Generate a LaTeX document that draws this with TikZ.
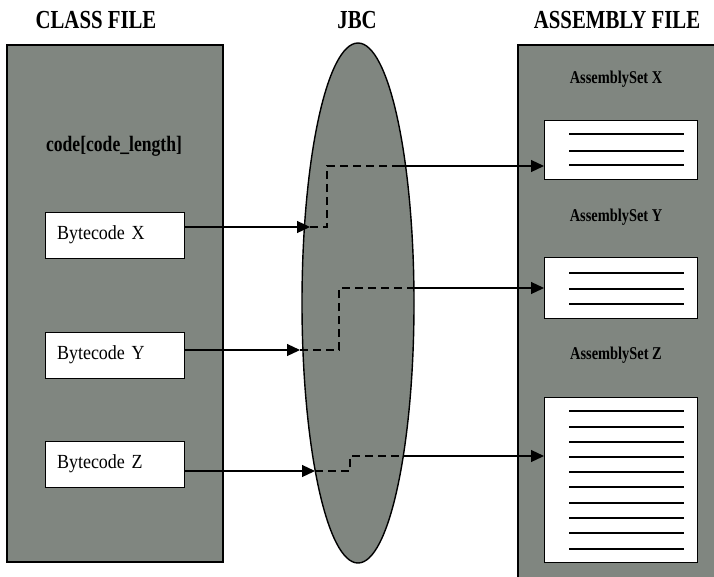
\documentclass[tikz,border=0pt]{standalone}
\usepackage{fontspec}
\setmainfont{Liberation Serif}
\newfontfamily\condfont[FakeStretch=0.8]{Liberation Serif}
\newfontfamily\boxfont[FakeStretch=0.9]{Liberation Serif}
\usetikzlibrary{shapes.geometric,positioning,arrows.meta}
\definecolor{panelgray}{RGB}{128,134,128}

\begin{document}
\begin{tikzpicture}[x=1pt, y=-1pt,
    panel/.style={draw, line width=1.4pt, fill=panelgray, outer sep=0pt},
    title/.style={font=\condfont\fontsize{26}{28}\selectfont\bfseries},
    setlabel/.style={font=\condfont\fontsize{18}{20}\selectfont\bfseries},
    bcbox/.style={draw, thick, fill=white, outer sep=0pt, minimum width=139pt,
                  minimum height=46pt, text width=115pt, inner xsep=12pt, align=left,
                  font=\boxfont\fontsize{20}{22}\selectfont},
    asmbox/.style={draw, thick, fill=white, outer sep=0pt, minimum width=153pt},
    textline/.style={line width=1.3pt},
    arrow/.style={-{Triangle[length=13pt, width=12pt]}, line width=1.2pt},
    route/.style={line width=1.2pt, dash pattern=on 8pt off 5pt}
]
\useasboundingbox (0,0) rectangle (714,576);

% Panels
\node[panel, minimum width=216pt, minimum height=517pt, anchor=north west] (classfile) at (7,45) {};
\node[panel, minimum width=200pt, minimum height=540pt, anchor=north west] (asmfile) at (518,45) {};
\node[panel, ellipse, minimum width=112pt, minimum height=520pt] (jbc) at (358,303) {};

% Titles
\node[title] (classtitle) at (96,20) {CLASS FILE};
\node[title] (jbctitle) at (357,20) {JBC};
\node[title] (asmtitle) at (617,20) {ASSEMBLY FILE};

% Class file contents
\node[font=\condfont\fontsize{22}{24}\selectfont\bfseries] (codelen) at (114,146) {code[code\_length]};
\node[bcbox] (bcX) at (114.5,235) {Bytecode X};
\node[bcbox] (bcY) at (114.5,355) {Bytecode Y};
\node[bcbox] (bcZ) at (114.5,464) {Bytecode Z};

% Assembly file contents
\node[setlabel] (setX) at (616,79) {AssemblySet X};
\node[setlabel] (setY) at (616,217) {AssemblySet Y};
\node[setlabel] (setZ) at (616,355) {AssemblySet Z};
\node[asmbox, minimum height=59pt] (asmX) at (620.5,149.5) {};
\node[asmbox, minimum height=61pt] (asmY) at (620.5,287.5) {};
\node[asmbox, minimum height=165pt] (asmZ) at (620.5,479.5) {};
\foreach \y in {134,151,165}
    \draw[textline] (569,\y) -- (684,\y);
\foreach \y in {273,289,304}
    \draw[textline] (569,\y) -- (684,\y);
\foreach \y in {411,427,442,457,472,487,503,518,533,549}
    \draw[textline] (569,\y) -- (684,\y);

% Entry and exit points on the JBC
\coordinate (inX) at (310,227);
\coordinate (inY) at (300,350);
\coordinate (inZ) at (315,471);
\coordinate (outX) at (400,166);
\coordinate (outY) at (410,288);
\coordinate (outZ) at (405,456);

% Bytecode into JBC
\draw[arrow] ([yshift=8pt]bcX.east) -- (inX);
\draw[arrow] ([yshift=5pt]bcY.east) -- (inY);
\draw[arrow] ([yshift=-7pt]bcZ.east) -- (inZ);

% Translation inside JBC
\draw[route] (inX) -- ++(17,0) |- (outX);
\draw[route] (inY) -- ++(39,0) |- (outY);
\draw[route] (inZ) -- ++(35,0) |- (outZ);

% JBC out to assembly sets
\draw[arrow] (outX) -- (asmX.west |- outX);
\draw[arrow] (outY) -- (asmY.west |- outY);
\draw[arrow] (outZ) -- (asmZ.west |- outZ);

\end{tikzpicture}
\end{document}
